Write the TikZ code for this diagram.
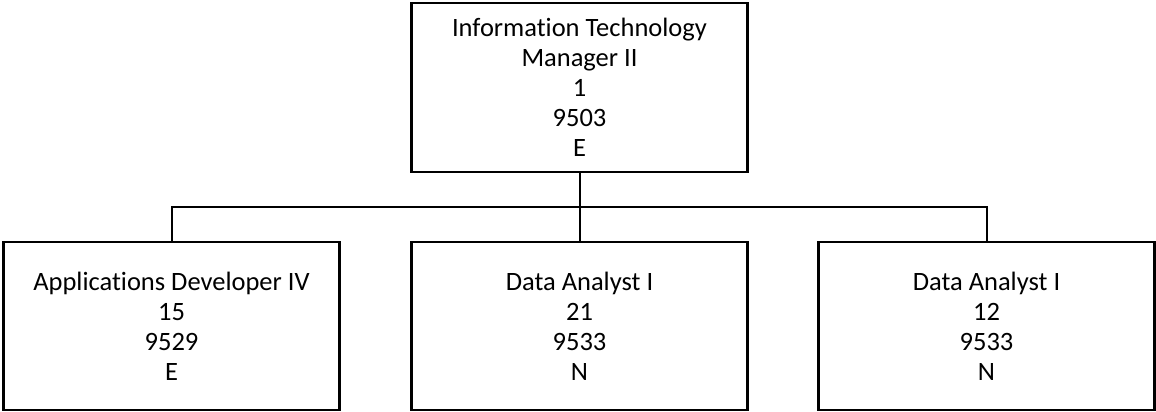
\documentclass[tikz,border=0pt]{standalone}
\usepackage{fontspec}
\setmainfont{Carlito}[Ligatures=NoCommon]

\begin{document}
\begin{tikzpicture}[x=1pt, y=-1pt,
    posbox/.style={draw, line width=2.2pt, inner sep=0pt, align=center,
        minimum width=336pt, minimum height=168pt,
        font=\fontsize{26.5}{30}\selectfont}]

    % Fix the page to the size of the reference
    \useasboundingbox (0,0) rectangle (1156,412);

    % Manager on top
    \node[posbox, minimum height=169pt] (mgr) at (579.5,87.5)
        {Information Technology\\Manager II\\1\\9503\\E};

    % Reports in a row below
    \node[posbox] (dev) at (171.5,326) {Applications Developer IV\\15\\9529\\E};
    \node[posbox] (anaA) at (579.5,326) {Data Analyst I\\21\\9533\\N};
    \node[posbox] (anaB) at (986.5,326) {Data Analyst I\\12\\9533\\N};

    % Connectors
    \coordinate (bus) at (579.5,207);
    \draw[line width=2pt] (mgr.south) -- (anaA.north);
    \draw[line width=2pt] (dev.north) |- (bus) -| (anaB.north);

\end{tikzpicture}
\end{document}
